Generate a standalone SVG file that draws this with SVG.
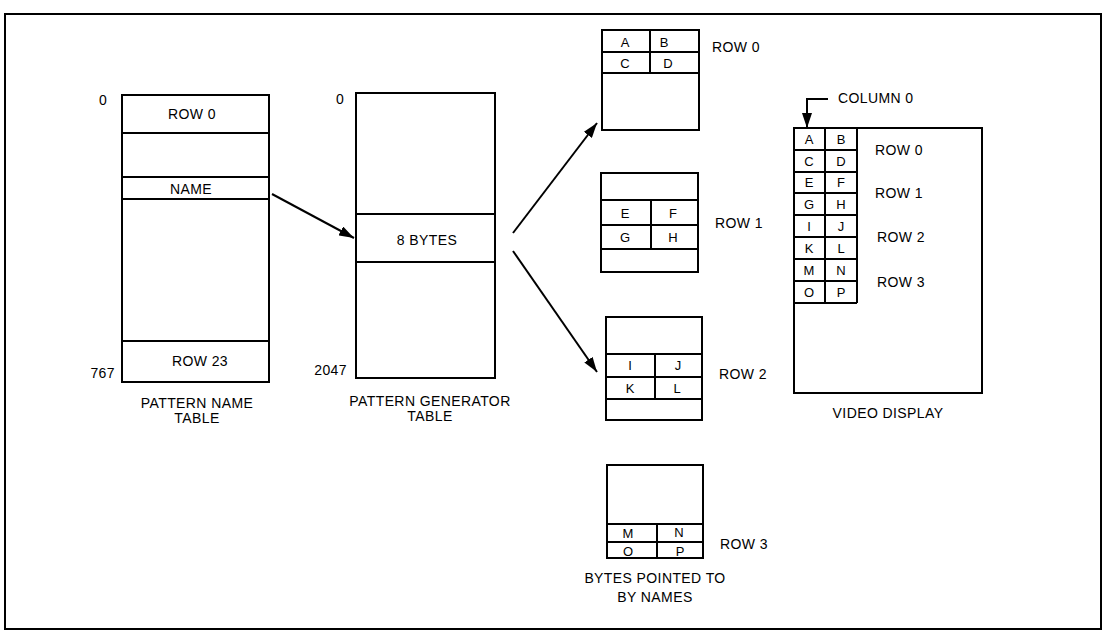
<svg xmlns="http://www.w3.org/2000/svg" width="1107" height="636" viewBox="0 0 1107 636">
<defs>
<marker id="ah" markerUnits="userSpaceOnUse" markerWidth="16" markerHeight="10" refX="15" refY="5" orient="auto">
<path d="M0,0 L15,5 L0,10 Z" fill="#000"/>
</marker>
<style>
.b{fill:#fff;stroke:#000;stroke-width:2}
.l{stroke:#000;stroke-width:2;fill:none}
.t{font-family:"Liberation Sans",Arial,sans-serif;font-size:14px;fill:#000;letter-spacing:0.4px}
.m{text-anchor:middle}
.c{font-family:"Liberation Sans",Arial,sans-serif;font-size:13px;fill:#000;text-anchor:middle}
.e{text-anchor:end}
</style>
</defs>
<rect x="0" y="0" width="1107" height="636" fill="#fff"/>
<rect x="5" y="14" width="1096" height="615" class="l"/>

<g id="pattern-name-table">
<rect x="122" y="95" width="147" height="287" class="b"/>
<line x1="122" y1="133" x2="269" y2="133" class="l"/>
<line x1="122" y1="177" x2="269" y2="177" class="l"/>
<line x1="122" y1="199" x2="269" y2="199" class="l"/>
<line x1="122" y1="341" x2="269" y2="341" class="l"/>
<text x="192" y="119" class="t m">ROW 0</text>
<text x="191" y="194" class="t m">NAME</text>
<text x="200" y="366" class="t m">ROW 23</text>
<text x="103" y="105" class="t m">0</text>
<text x="115" y="378" class="t e">767</text>
<text x="197" y="408" class="t m">PATTERN NAME</text>
<text x="197" y="423" class="t m">TABLE</text>
</g>

<g id="pattern-generator-table">
<rect x="356" y="93" width="139" height="285" class="b"/>
<line x1="356" y1="214" x2="495" y2="214" class="l"/>
<line x1="356" y1="262" x2="495" y2="262" class="l"/>
<text x="427" y="245" class="t m">8 BYTES</text>
<text x="340" y="104" class="t m">0</text>
<text x="347" y="375" class="t e">2047</text>
<text x="430" y="406" class="t m">PATTERN GENERATOR</text>
<text x="430" y="421" class="t m">TABLE</text>
</g>

<g id="bytes-row0">
<rect x="602" y="30" width="97" height="100" class="b"/>
<line x1="602" y1="52" x2="699" y2="52" class="l"/>
<line x1="602" y1="73" x2="699" y2="73" class="l"/>
<line x1="650" y1="30" x2="650" y2="73" class="l"/>
<text x="625" y="47" class="c">A</text>
<text x="664" y="47" class="c">B</text>
<text x="625" y="68" class="c">C</text>
<text x="668" y="68" class="c">D</text>
<text x="712" y="52" class="t">ROW 0</text>
</g>

<g id="bytes-row1">
<rect x="601" y="173" width="97" height="99" class="b"/>
<line x1="601" y1="200" x2="698" y2="200" class="l"/>
<line x1="601" y1="225" x2="698" y2="225" class="l"/>
<line x1="601" y1="249" x2="698" y2="249" class="l"/>
<line x1="651" y1="200" x2="651" y2="249" class="l"/>
<text x="625" y="218" class="c">E</text>
<text x="673" y="218" class="c">F</text>
<text x="625" y="242" class="c">G</text>
<text x="673" y="242" class="c">H</text>
<text x="715" y="228" class="t">ROW 1</text>
</g>

<g id="bytes-row2">
<rect x="606" y="317" width="96" height="103" class="b"/>
<line x1="606" y1="354" x2="702" y2="354" class="l"/>
<line x1="606" y1="377" x2="702" y2="377" class="l"/>
<line x1="606" y1="399" x2="702" y2="399" class="l"/>
<line x1="655" y1="354" x2="655" y2="399" class="l"/>
<text x="630" y="370" class="c">I</text>
<text x="678" y="370" class="c">J</text>
<text x="630" y="393" class="c">K</text>
<text x="677" y="393" class="c">L</text>
<text x="719" y="379" class="t">ROW 2</text>
</g>

<g id="bytes-row3">
<rect x="607" y="465" width="96" height="93" class="b"/>
<line x1="607" y1="524" x2="703" y2="524" class="l"/>
<line x1="607" y1="542" x2="703" y2="542" class="l"/>
<line x1="657" y1="524" x2="657" y2="558" class="l"/>
<text x="628" y="538" class="c">M</text>
<text x="679" y="537" class="c">N</text>
<text x="628" y="555.5" class="c">O</text>
<text x="680" y="555.5" class="c">P</text>
<text x="720" y="549" class="t">ROW 3</text>
<text x="655" y="583" class="t m">BYTES POINTED TO</text>
<text x="655" y="602" class="t m">BY NAMES</text>
</g>

<g id="video-display">
<rect x="794" y="128" width="188" height="265" class="b"/>
<path d="M794,150 H857 M794,172 H857 M794,193 H857 M794,215 H857 M794,237 H857 M794,259 H857 M794,281 H857 M794,303 H857 M825,128 V303 M857,128 V303" class="l"/>
<text x="809" y="144" class="c">A</text>
<text x="841" y="144" class="c">B</text>
<text x="809" y="166" class="c">C</text>
<text x="841" y="166" class="c">D</text>
<text x="809" y="187" class="c">E</text>
<text x="841" y="187" class="c">F</text>
<text x="809" y="209" class="c">G</text>
<text x="841" y="209" class="c">H</text>
<text x="809" y="231" class="c">I</text>
<text x="841" y="231" class="c">J</text>
<text x="809" y="253" class="c">K</text>
<text x="841" y="253" class="c">L</text>
<text x="809" y="275" class="c">M</text>
<text x="841" y="275" class="c">N</text>
<text x="809" y="297" class="c">O</text>
<text x="841" y="297" class="c">P</text>
<text x="875" y="155" class="t">ROW 0</text>
<text x="875" y="198" class="t">ROW 1</text>
<text x="877" y="242" class="t">ROW 2</text>
<text x="877" y="287" class="t">ROW 3</text>
<text x="838" y="103" class="t">COLUMN 0</text>
<text x="888" y="418" class="t m">VIDEO DISPLAY</text>
</g>

<g id="connectors">
<line x1="272" y1="194" x2="354" y2="238" class="l" marker-end="url(#ah)"/>
<line x1="513" y1="233" x2="597" y2="123" class="l" marker-end="url(#ah)"/>
<line x1="513" y1="251" x2="597" y2="372" class="l" marker-end="url(#ah)"/>
<path d="M828,99 H807 V128" class="l" marker-end="url(#ah)"/>
</g>
</svg>
